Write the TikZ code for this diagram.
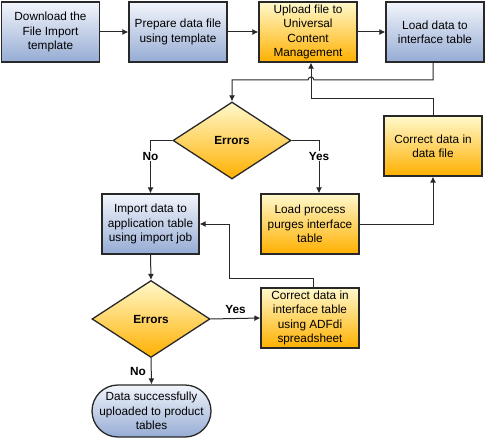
\documentclass[tikz,border=0pt]{standalone}
\usepackage{fontspec}
\setmainfont{Liberation Sans}
\usepackage{tikz}
\usetikzlibrary{arrows.meta,shapes.geometric}
\definecolor{BlueTop}{RGB}{242,245,251}
\definecolor{BlueBottom}{RGB}{150,172,212}
\definecolor{GoldTop}{RGB}{255,249,204}
\definecolor{GoldBottom}{RGB}{255,176,0}
\definecolor{Ink}{RGB}{40,40,40}
\tikzstyle{none}=[inner sep=0pt]
\tikzstyle{simple}=[-,draw=Ink,line width=1pt]
\tikzstyle{arrow}=[-{Latex[length=6pt,width=6pt]},draw=Ink,line width=1pt]
\tikzstyle{box}=[draw=Ink,line width=1.3pt,minimum width=98pt,minimum height=60pt,align=center,inner sep=1pt,font=\fontsize{11.8}{14.3}\selectfont]
\tikzstyle{bluebox}=[box,top color=BlueTop,bottom color=BlueBottom]
\tikzstyle{goldbox}=[box,top color=GoldTop,bottom color=GoldBottom]
\tikzstyle{decision}=[goldbox,diamond,minimum width=118pt,minimum height=77pt,inner sep=0pt,font=\fontsize{11.8}{14.3}\selectfont\bfseries]
\tikzstyle{terminal}=[bluebox,rounded corners=26pt,minimum width=119pt,minimum height=52pt]
\tikzstyle{answer}=[fill=white,inner sep=1pt,font=\fontsize{11.8}{14.3}\selectfont\bfseries]

\begin{document}
\begin{tikzpicture}[x=1pt,y=-1pt]
  \useasboundingbox (0,0) rectangle (486,438);
  \node [style=bluebox] (1) at (50.5, 32) {Download the\\File Import\\template};
  \node [style=bluebox] (2) at (178, 32) {Prepare data file\\using template};
  \node [style=goldbox] (3) at (308, 32) {Upload file to\\Universal\\Content\\Management};
  \node [style=bluebox] (4) at (435, 32) {Load data to\\interface table};
  \node [style=decision] (5) at (232, 140.5) {Errors};
  \node [style=goldbox] (6) at (433, 146) {Correct data in\\data file};
  \node [style=bluebox, minimum width=97pt] (7) at (150.5, 224) {Import data to\\application table\\using import job};
  \node [style=goldbox] (8) at (310, 224) {Load process\\purges interface\\table};
  \node [style=decision] (9) at (151, 319) {Errors};
  \node [style=goldbox] (10) at (310, 318) {Correct data in\\interface table\\using ADFdi\\spreadsheet};
  \node [style=terminal] (11) at (151.5, 411) {Data successfully\\uploaded to product\\tables};
  \node [style=none] (12) at (311, 80) {};
  \node [style=none] (13) at (311, 99) {};
  \node [style=none] (14) at (313, 278) {};
  \node [style=none] (15) at (229, 278) {};
  \node [style=none] (16) at (319, 140.5) {};
  \node [style=none] (17) at (433, 80) {};
  \draw [style=arrow] (1) to (2);
  \draw [style=arrow] (2) to (3);
  \draw [style=arrow] (3) to (4);
  \draw [style=arrow] (4.south -| 17.center) -- (17.center) -- ([xshift=3pt]12.center) arc (0:180:3pt) -| (5.north);
  \draw [style=arrow] (6.north) |- (13.center) -- (3.south -| 13.center);
  \draw [style=arrow] (5.west) -| node [style=answer, pos=0.65] {No} (7.north);
  \draw [style=arrow] (5.east) -- (16.center) -- node [style=answer, pos=0.3] {Yes} (8.north -| 16.center);
  \draw [style=arrow] (8.east) -| (6.south);
  \draw [style=arrow] (7.south) to (9.north);
  \draw [style=arrow] (9.east) to node [style=answer, above=3pt] {Yes} (10.west);
  \draw [style=arrow] (10.north -| 14.center) -- (14.center) -- (15.center) |- (7.east);
  \draw [style=arrow] (9.south) to node [style=answer, left=4pt] {No} (11.north);
\end{tikzpicture}
\end{document}
